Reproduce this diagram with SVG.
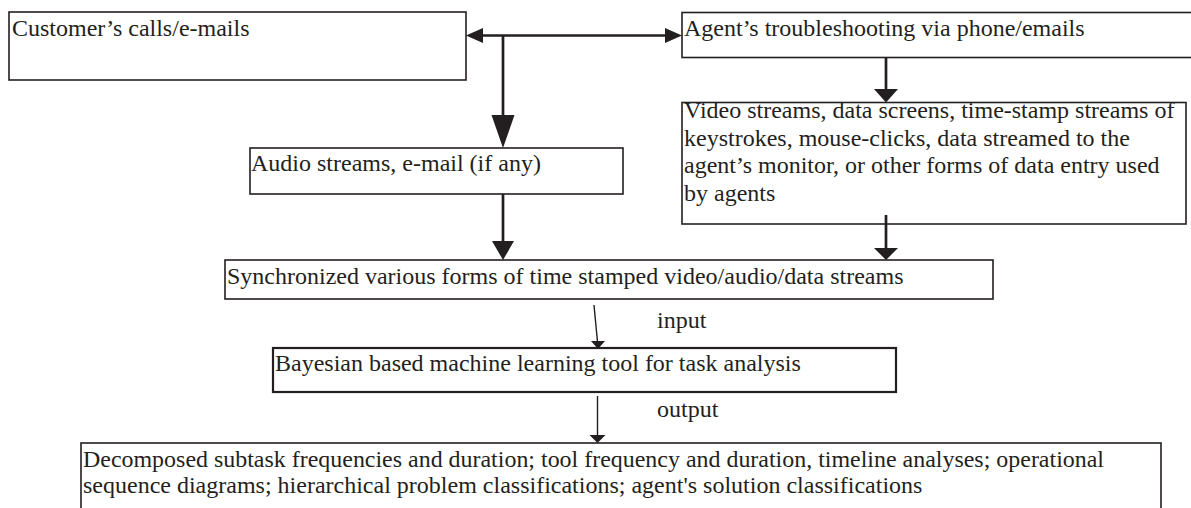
<svg xmlns="http://www.w3.org/2000/svg" width="1191" height="508" viewBox="0 0 1191 508">
<style>
.box{fill:#fff;stroke:#231f20;stroke-width:1.6}
.bold{stroke-width:2.2}
.t{font-family:"Liberation Serif","Times New Roman",serif;font-size:24px;fill:#231f20}
.ln{stroke:#231f20;stroke-width:2.7;fill:none}
.thin{stroke:#231f20;stroke-width:1.4;fill:none}
.hd{fill:#231f20;stroke:none}
</style>
<rect width="1191" height="508" fill="#fff"/>
<g id="customer">
<rect class="box" x="9" y="12" width="457" height="68"/>
<text class="t" x="12" y="36">Customer’s calls/e-mails</text>
</g>
<g id="agent">
<rect class="box" x="682" y="12.5" width="530" height="45"/>
<text class="t" x="684" y="36">Agent’s troubleshooting via phone/emails</text>
</g>
<g id="audio">
<rect class="box" x="250" y="148" width="373" height="46"/>
<text class="t" x="251" y="171">Audio streams, e-mail (if any)</text>
</g>
<g id="video">
<rect class="box" x="682" y="102.5" width="504" height="121.5"/>
<text class="t" x="684" y="118">Video streams, data screens, time-stamp streams of</text>
<text class="t" x="684" y="145.5">keystrokes, mouse-clicks, data streamed to the</text>
<text class="t" x="684" y="173">agent’s monitor, or other forms of data entry used</text>
<text class="t" x="684" y="200.5">by agents</text>
</g>
<g id="sync">
<rect class="box" x="225" y="260" width="768" height="39"/>
<text class="t" x="227" y="284">Synchronized various forms of time stamped video/audio/data streams</text>
</g>
<g id="bayes">
<rect class="box bold" x="273" y="348" width="623" height="44"/>
<text class="t" x="275" y="371">Bayesian based machine learning tool for task analysis</text>
</g>
<g id="result">
<rect class="box" x="81" y="443" width="1080" height="80"/>
<text class="t" x="83" y="467" textLength="1021" lengthAdjust="spacingAndGlyphs">Decomposed subtask frequencies and duration; tool frequency and duration, timeline analyses; operational</text>
<text class="t" x="83" y="493">sequence diagrams; hierarchical problem classifications; agent's solution classifications</text>
</g>
<g id="connectors">
<line class="ln" x1="480" y1="35.5" x2="668" y2="35.5"/>
<polygon class="hd" points="466,35.5 483,28 483,43"/>
<polygon class="hd" points="682,35.5 665,28 665,43"/>
<line class="ln" x1="503" y1="35.5" x2="503" y2="120"/>
<polygon class="hd" points="503,148 491.5,115 514.5,115"/>
<line class="ln" x1="886" y1="57.5" x2="886" y2="92"/>
<polygon class="hd" points="886,102.5 874,89 898,89"/>
<line class="ln" x1="503" y1="194" x2="503" y2="245"/>
<polygon class="hd" points="503,260 492,241 514,241"/>
<line class="ln" x1="886" y1="215" x2="886" y2="250"/>
<polygon class="hd" points="886,260 874,248 898,248"/>
<line class="thin" x1="594" y1="305" x2="597.5" y2="342"/>
<polygon class="hd" points="598,349 591,341 605,341"/>
<line class="thin" x1="597.5" y1="396" x2="597.5" y2="437"/>
<polygon class="hd" points="597.5,443 589.5,435 605.5,435"/>
<text class="t" x="657" y="328">input</text>
<text class="t" x="657" y="417">output</text>
</g>
</svg>
